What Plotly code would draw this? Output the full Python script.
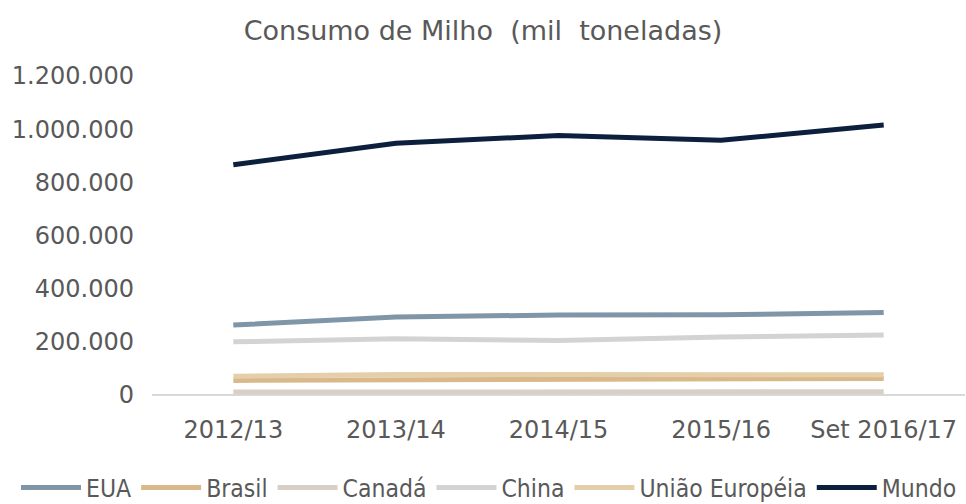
import plotly.graph_objects as go

categories = ["2012/13", "2013/14", "2014/15", "2015/16", "Set 2016/17"]
eua = [263000, 293000, 301000, 302000, 310000]
brasil = [55000, 56000, 57000, 57000, 62000]
canada = [11000, 12000, 12000, 12000, 12000]
china = [200000, 212000, 205000, 218000, 226000]
ue = [71000, 77000, 77000, 76000, 76000]
mundo = [866000, 947000, 976000, 958000, 1016000]

series = [
    ("EUA", eua, "#7f96a9"),
    ("Brasil", brasil, "#d9b98a"),
    ("Canadá", canada, "#d8d0c7"),
    ("China", china, "#d3d3d3"),
    ("União Européia", ue, "#e5cfab"),
    ("Mundo", mundo, "#0c1f3d"),
]

fig = go.Figure()
for name, vals, color in series:
    fig.add_trace(go.Scatter(x=categories, y=vals, name=name, mode="lines",
                             line=dict(color=color, width=5)))

fig.update_layout(
    width=966, height=504,
    plot_bgcolor="white", paper_bgcolor="white",
    separators=",.",
    font=dict(family="DejaVu Sans", color="#595959", size=24),
    title=dict(text="Consumo de Milho \u00a0(mil \u00a0toneladas)", x=0.5, xanchor="center",
               y=0.94, yanchor="middle", font=dict(size=27, color="#595959")),
    margin=dict(l=152, r=1, t=76, b=109, autoexpand=False),
    xaxis=dict(showgrid=False, showline=False, ticks="", ticklabelstandoff=18,
               range=[-0.5, 4.5], tickfont=dict(size=24), automargin=False),
    yaxis=dict(range=[0, 1200000], dtick=200000, tickformat=",d", showgrid=False,
               zeroline=True, zerolinecolor="#d9d9d9", zerolinewidth=1.5,
               ticks="", ticklabelstandoff=17, tickfont=dict(size=24), automargin=False),
    legend=dict(orientation="h", xref="paper", x=-0.1673, xanchor="left",
                yref="paper", y=-0.361, yanchor="bottom",
                font=dict(family="DejaVu Sans Condensed, Liberation Sans", size=24.5,
                          color="#595959"),
                itemwidth=60, tracegroupgap=0),
    showlegend=True,
)

fig.write_html("out.html", config={"displayModeBar": False},
               post_script="document.body.style.margin='0';")
